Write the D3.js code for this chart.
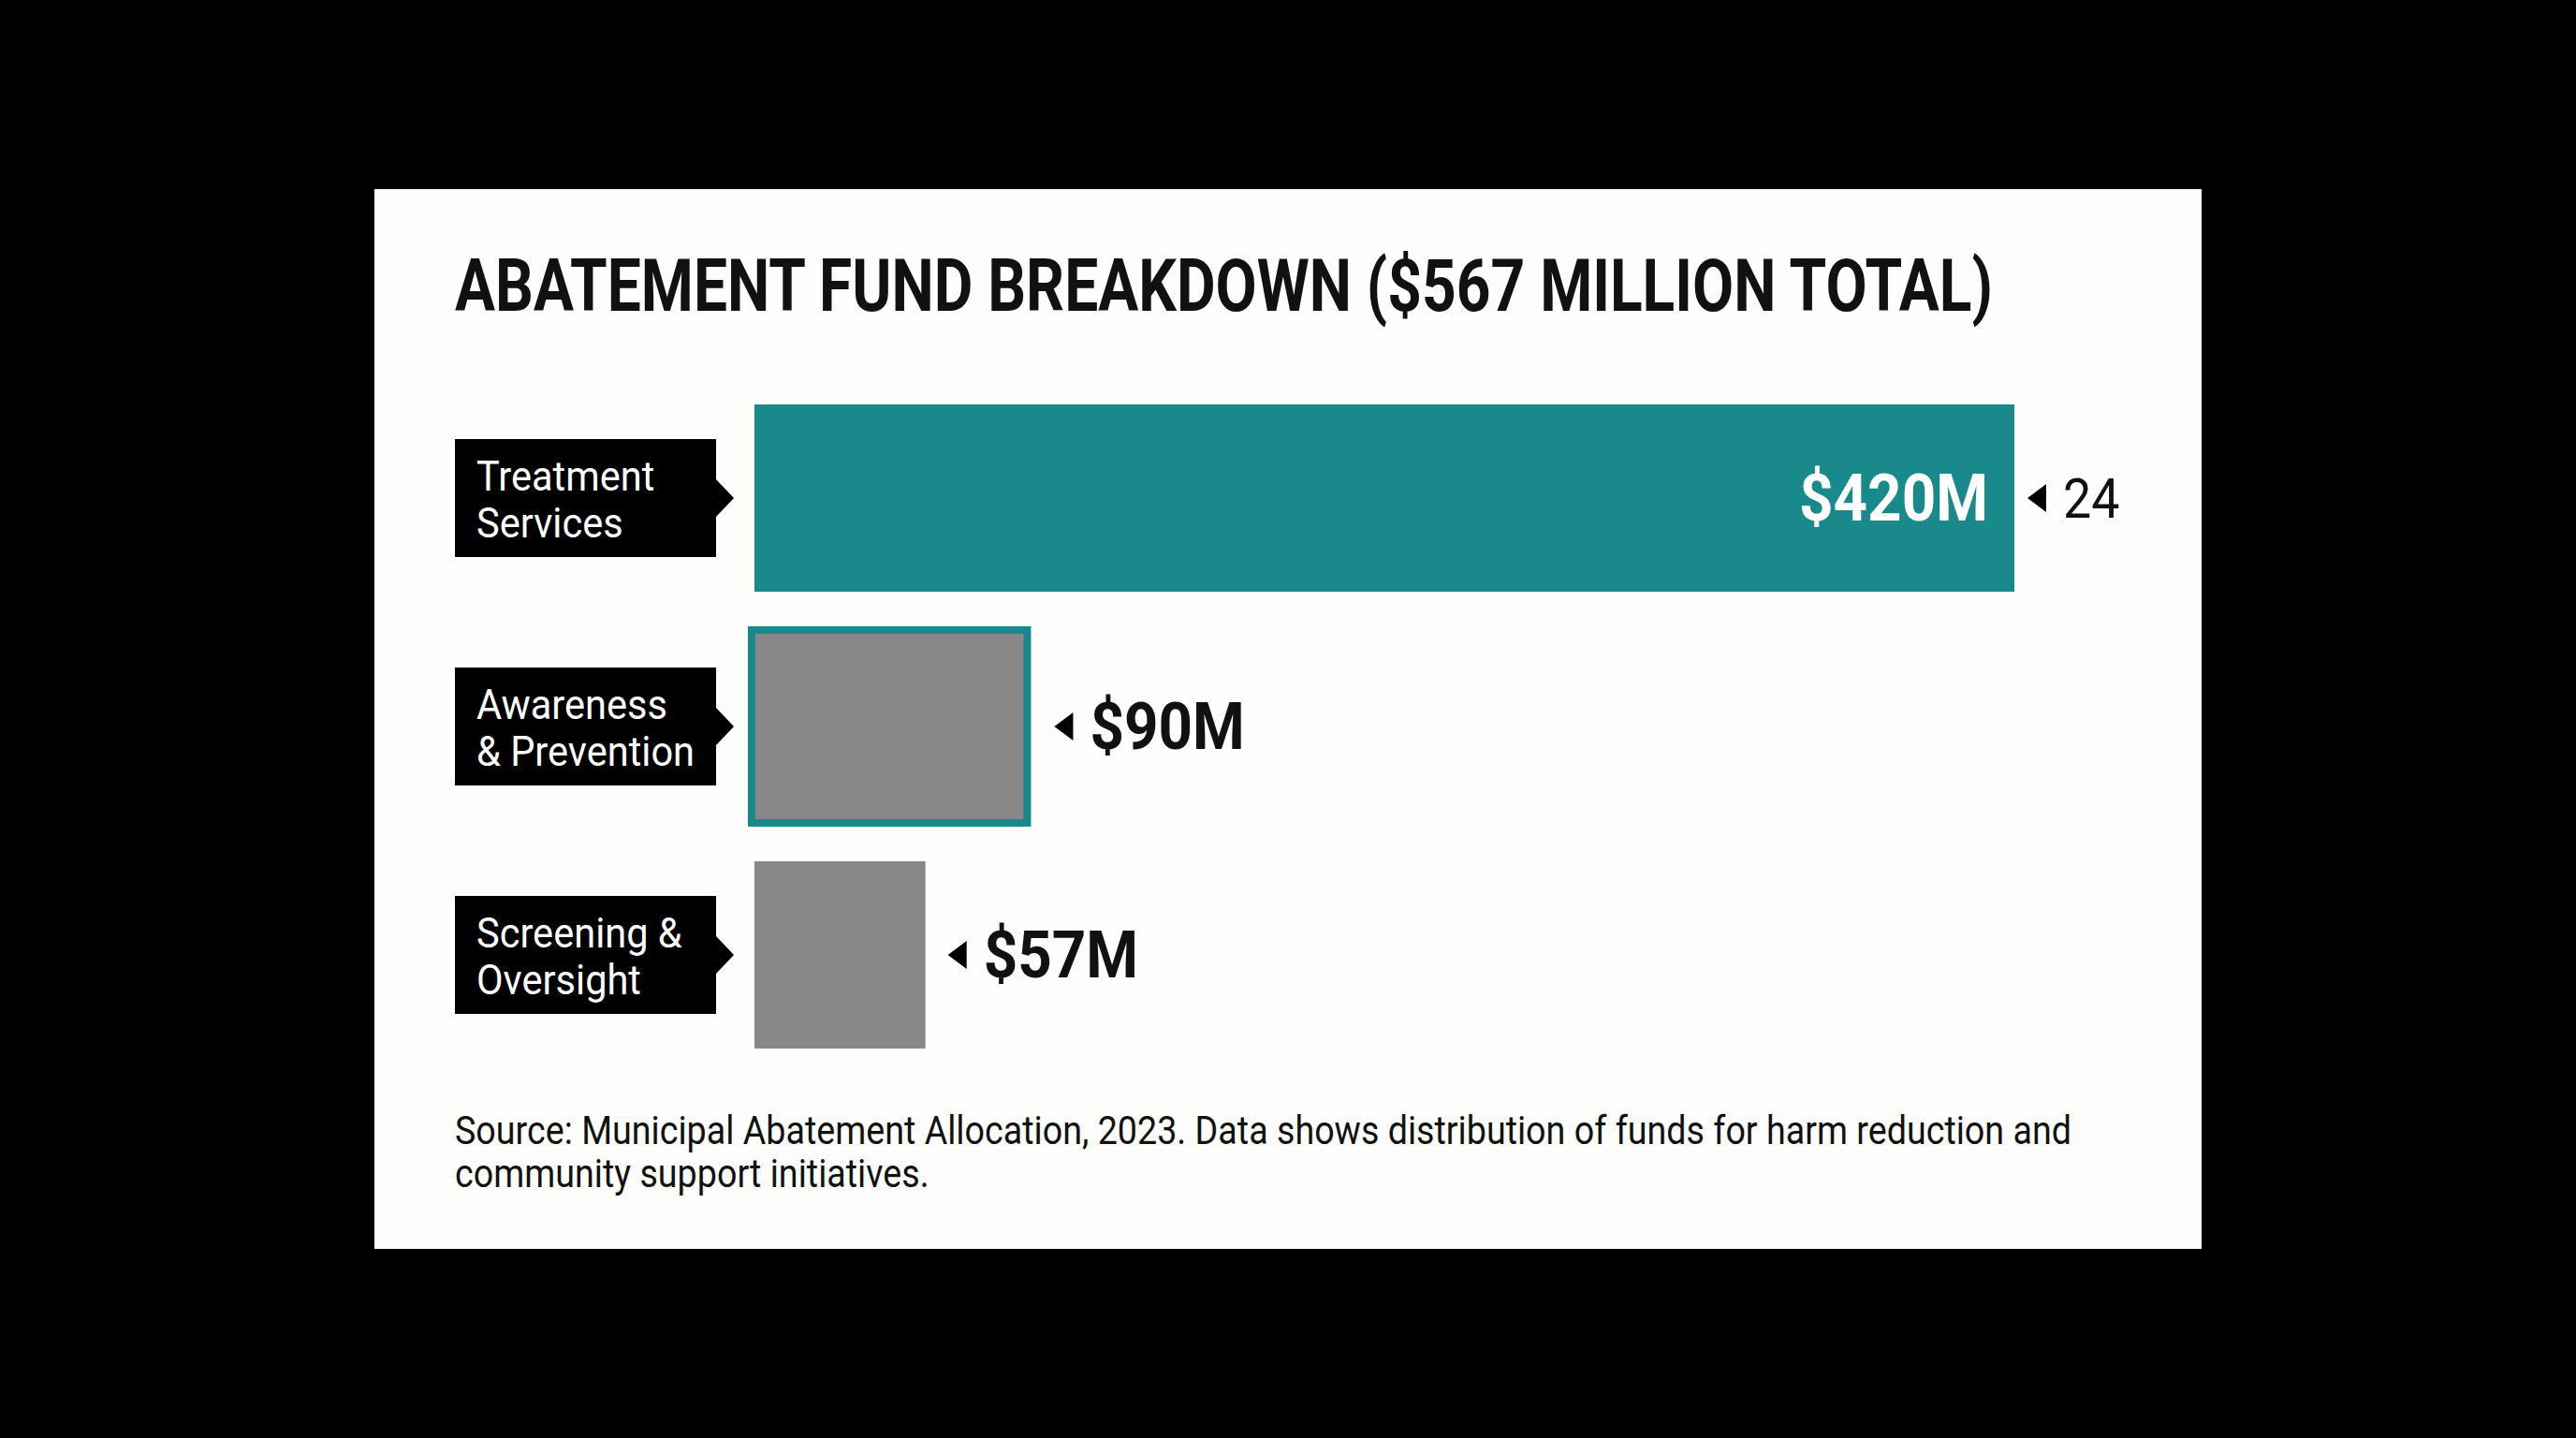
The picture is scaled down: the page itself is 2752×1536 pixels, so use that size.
<!DOCTYPE html>
<html lang="en">
<head>
  <meta charset="UTF-8">
  <title>Abatement Fund Breakdown</title>
  <style>
    html, body { margin: 0; padding: 0; background: #000; }
    svg { display: block; }
    text { font-family: Roboto, "Liberation Sans", sans-serif; }
  </style>
</head>
<body>
<svg id="chart" width="2752" height="1536"></svg>
<script src="https://d3js.org/d3.v7.min.js"></script>
<script>
  // data
  const categories = ["Treatment Services", "Awareness & Prevention", "Screening & Oversight"];
  const labelLines = [["Treatment", "Services"], ["Awareness", "& Prevention"], ["Screening &", "Oversight"]];
  const values = [420, 90, 57];            // $ millions
  const valueLabels = ["$420M", "$90M", "$57M"];
  const sideNotes = ["24", "", ""];         // stray annotation next to the top bar
  const titleText = "ABATEMENT FUND BREAKDOWN ($567 MILLION TOTAL)";
  const sourceLines = [
    "Source: Municipal Abatement Allocation, 2023. Data shows distribution of funds for harm reduction and",
    "community support initiatives."
  ];

  const teal = "#1a898b", grey = "#888888";

  const svg = d3.select("#chart");

  // squeeze a text node to a condensed look
  function squeeze(node, k) {
    const w = node.getComputedTextLength();
    d3.select(node).attr("textLength", w * k).attr("lengthAdjust", "spacingAndGlyphs");
  }

  // white card
  svg.append("rect")
    .attr("x", 400).attr("y", 202)
    .attr("width", 1952).attr("height", 1132)
    .attr("fill", "#fdfdfc");

  const title = svg.append("text")
    .attr("x", 486).attr("y", 332)
    .attr("font-size", 78).attr("font-weight", 700)
    .attr("fill", "#111")
    .text(titleText);
  const kTitle = 1643 / title.node().getComputedTextLength();
  squeeze(title.node(), kTitle);

  // source note (also sets the squeeze factor for regular text)
  const src = svg.append("text")
    .attr("x", 486).attr("y", 1222)
    .attr("font-size", 42)
    .attr("fill", "#111");
  src.selectAll("tspan")
    .data(sourceLines)
    .join("tspan")
    .attr("x", 486)
    .attr("dy", (d, j) => j === 0 ? 0 : 46)
    .text(d => d);
  const kReg = 1727 / src.select("tspan").node().getComputedTextLength();
  src.selectAll("tspan").each(function() { squeeze(this, kReg); });

  const x = d3.scaleLinear().domain([0, 420]).range([806, 2152]);
  const y = d3.scaleBand().domain(categories).range([432, 1120]).paddingInner(0.18);

  const rows = svg.selectAll("g.row")
    .data(categories.map((c, i) => ({ cat: c, lines: labelLines[i], v: values[i], lab: valueLabels[i], note: sideNotes[i], i: i })))
    .join("g").attr("class", "row");

  // bars (the middle one is outlined in teal)
  rows.append("rect")
    .attr("x", d => d.i === 1 ? x(0) - 3 : x(0))
    .attr("y", d => d.i === 1 ? y(d.cat) - 3 : y(d.cat))
    .attr("width", d => d.i === 1 ? x(d.v) - x(0) + 6 : x(d.v) - x(0))
    .attr("height", d => d.i === 1 ? y.bandwidth() + 6 : y.bandwidth())
    .attr("fill", d => d.i === 0 ? teal : grey)
    .attr("stroke", d => d.i === 1 ? teal : "none")
    .attr("stroke-width", 8);

  // category tags (black box with a pointer)
  const boxL = 486, boxR = 765, boxH = 126;
  rows.append("path")
    .attr("d", d => {
      const cy = y(d.cat) + y.bandwidth() / 2;
      return d3.line()([[boxL, cy - boxH / 2], [boxR, cy - boxH / 2], [boxR, cy - 20], [boxR + 19, cy],
        [boxR, cy + 20], [boxR, cy + boxH / 2], [boxL, cy + boxH / 2]]) + "Z";
    })
    .attr("fill", "#000");

  rows.append("text")
    .attr("x", 509)
    .attr("y", d => y(d.cat) + y.bandwidth() / 2 - 8)
    .attr("font-size", 45)
    .attr("fill", "#fff")
    .selectAll("tspan")
    .data(d => d.lines)
    .join("tspan")
    .attr("x", 509)
    .attr("dy", (d, j) => j === 0 ? 0 : 50)
    .text(d => d)
    .each(function() { squeeze(this, kReg * 1.03); });

  // value labels: inside the big bar, outside the small ones
  let kBold = 1;
  rows.each(function(d) {
    const g = d3.select(this);
    const cy = y(d.cat) + y.bandwidth() / 2;
    const tri = tx => d3.line()([[tx, cy], [tx + 20, cy - 15], [tx + 20, cy + 15]]) + "Z";
    if (d.i === 0) {
      const t = g.append("text")
        .attr("x", x(d.v) - 28).attr("y", cy + 24)
        .attr("text-anchor", "end")
        .attr("font-size", 70).attr("font-weight", 700)
        .attr("fill", "#fff")
        .text(d.lab);
      kBold = 202 / t.node().getComputedTextLength();
      squeeze(t.node(), kBold);
      const tx = x(d.v) + 14;
      g.append("path").attr("d", tri(tx)).attr("fill", "#000");
      const n = g.append("text")
        .attr("x", tx + 38).attr("y", cy + 21)
        .attr("font-size", 60)
        .attr("fill", "#111")
        .text(d.note);
      squeeze(n.node(), kReg);
    } else {
      const tx = x(d.v) + (d.i === 1 ? 32 : 24);
      g.append("path").attr("d", tri(tx)).attr("fill", "#000");
      const t = g.append("text")
        .attr("x", tx + 38).attr("y", cy + 24)
        .attr("font-size", 70).attr("font-weight", 700)
        .attr("fill", "#111")
        .text(d.lab);
      squeeze(t.node(), kBold);
    }
  });
</script>
</body>
</html>
